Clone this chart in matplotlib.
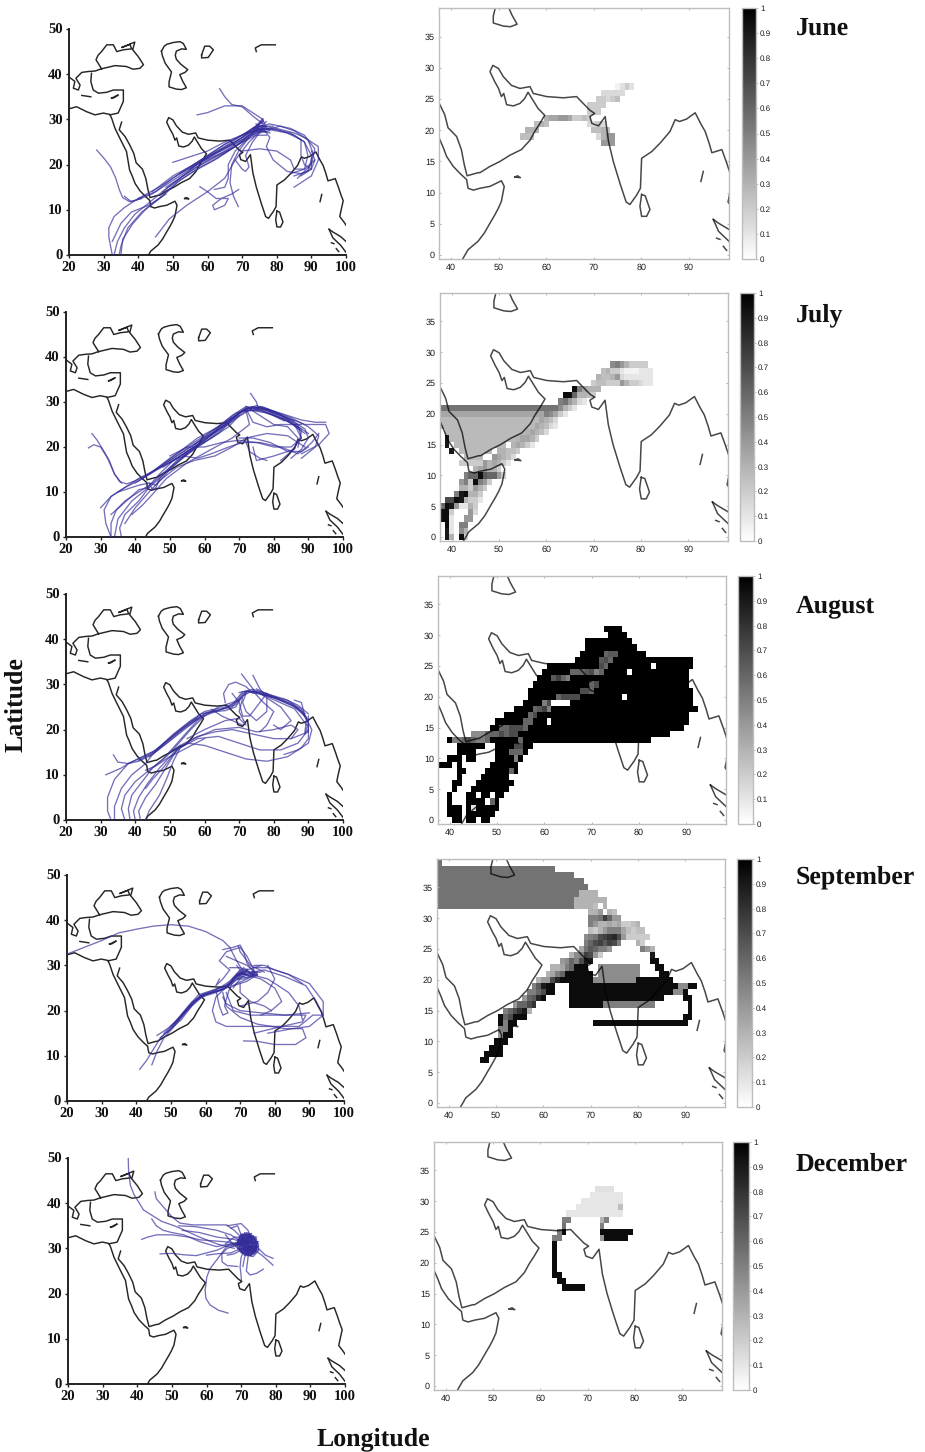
import numpy as np
import matplotlib
matplotlib.use("Agg")
import matplotlib.pyplot as plt

plt.rcParams["text.hinting"] = "no_hinting"

W, H = 925, 1452
MONTHS = ["June", "July", "August", "September", "December"]

# ---------- geography (lon, lat) ----------
COAST_AFRICA = [(19.8,32.3),(22.2,32.8),(25.1,31.7),(27.5,31),(29.9,31.4),(31.8,31.1),(32.3,30.3),(33.3,28),(34.7,25.8),(36.6,22.9),(37.5,18.8),(38.3,17.4),(39.1,15.8),(40.5,14.2),(42,13),(43.3,12.1),(43.6,10.7),(44.7,10.4),(46.1,10.7),(48.2,11),(50.6,11.9),(51.2,11),(50.6,8.6),(49.9,7.4),(49.2,6.4),(48.2,5.1),(47,3.5),(45.7,2.2),(43.6,0.85),(42.5,-0.6)]
COAST_ASIA = [(35.2,29.4),(34.5,27.7),(36.2,26.2),(37.5,24.4),(38.7,22.5),(39.4,20.4),(41.2,19),(42.2,16.9),(42.8,14.5),(43.4,12.7),(45.7,13.2),(46.1,13.2),(48.2,14.2),(50.3,15),(52.4,16),(54.8,16.9),(56.6,18.4),(57.6,19.8),(58.7,21.1),(59.7,22.4),(58.3,23.5),(57,25.1),(56.2,26.1),(55.5,25.1),(54.5,24.3),(53.1,23.9),(51.7,24.1),(51.1,25.9),(50.6,25.4),(50,26.7),(49.2,27.8),(48.2,29.4),(48.8,30.4),(50,29.9),(51,28.6),(52.7,27.2),(54.5,26.7),(56.6,27),(57.3,25.9),(60.1,25.4),(63.6,25.2),(66.4,25.4),(67.4,24.6),(69.2,23.2),(70.2,22.7),(69.2,22.2),(69.6,21.1),(71,20.7),(72.4,22.2),(73.1,18.2),(74.1,15),(75.5,11.5),(76.8,8.5),(77.6,8.1),(79,9.6),(79.8,10.7),(80.05,15.5),(82.2,16.6),(84,18),(86,19.8),(87.1,21.7),(88,21.4),(89.5,21.8),(91.3,22.8),(92.5,21),(93.4,19.8),(94.2,18),(94.8,16.4),(96.9,16.9),(97.9,14.8),(98.5,13.4),(99.2,12),(98.6,10),(98.2,8.5),(99.5,7.2),(100,6.6)]
COAST_GREECE = [(19.8,39.5),(21.7,38.4),(21.25,36.9),(22.7,36.5),(23.2,37.6),(22,39.1),(23.7,40.4),(25.6,40.6),(27.5,40.7),(29.4,41.2)]
COAST_BLACK_SEA = [(29.4,41.2),(27.8,43.2),(28.4,44.2),(29.4,45),(30.9,46.5),(32.8,46.5),(33.8,45),(35.7,45.4),(38.1,45.6),(37.6,46.6),(35.2,45.9),(39,47.1),(38.4,45.4),(40,43.9),(41.5,42.1),(40.5,41.3),(38.5,41.1),(36.6,41.7),(33.3,41.9),(29.4,41.2)]
COAST_TURKEY_S = [(26.5,40.2),(26.3,38.4),(27,36.5),(28.5,35.8),(30.9,36),(32.8,36.5),(35.7,36.5),(35.7,34),(34.2,31.4),(31.8,31)]
CRETE = [(23.7,35.3),(26.3,35)]
CYPRUS = [(32.3,34.7),(34.2,35.4),(33,34.8),(32.3,34.7)]
CASPIAN = [(46.7,45.1),(47.5,46.2),(48.2,46.6),(50,47),(52,47.2),(53,46.8),(53.9,45.5),(52.5,45.6),(51,45.1),(50.7,44.2),(51,43.3),(52.3,42.2),(54.3,41),(53.5,40.4),(52,39.9),(52.8,38.5),(53.9,37),(52.5,36.6),(51,36.7),(48.9,37.2),(48.9,38.3),(49.6,40.5),(47.8,42.4),(47,44),(46.7,45.1)]
ARAL = [(58.3,44.3),(59.2,46.2),(60.6,46.2),(61.7,45.4),(60.2,43.7),(58.3,43.6),(58.3,44.3)]
BALKHASH = [(74.1,45),(73.8,45.8),(75.5,46.5),(79.6,46.5)]
SRILANKA = [(80.05,9.7),(79.7,7.8),(80.05,6.2),(81.1,6.2),(81.8,7.3),(80.8,9.5),(80.05,9.7)]
SUMATRA_N = [(95.1,5.7),(96.2,5.1),(98.4,4.1),(100,3)]
SUMATRA_S = [(95.1,5.7),(96.2,3.8),(98.4,2.2),(100,0.6)]
ANDAMAN = [(93,13.4),(92.5,11.8)]
SOCOTRA = [(53.4,12.5),(54,12.7),(54.6,12.4),(53.4,12.5)]
NIAS = [(97.2,1.4),(97.9,0.75)]
SIMEULUE = [(95.8,2.7),(96.5,2.5)]
COASTS = [COAST_AFRICA, COAST_ASIA, COAST_GREECE, COAST_BLACK_SEA, COAST_TURKEY_S, CRETE, CYPRUS, CASPIAN, ARAL, BALKHASH,
          SRILANKA, SUMATRA_N, SUMATRA_S, ANDAMAN, SOCOTRA, NIAS, SIMEULUE]

# ---------- trajectories (lon, lat) ----------
TRAJ_JUNE = [
 [(28,23.2),(30,21.5),(32,19.5),(33.5,17),(34.5,14.5),(35.5,12.7),(37.5,11.8),(40,12.3),(44,13.5),(50,16.5),(55,19),(60,21.5),(65,23.5),(70,25.5),(75,28),(77,28.5)],
 [(32.5,0),(31.5,4),(31.5,6),(33,8.5),(36,10.5),(40,12.5),(45,14),(50,17),(55,19.5),(60,22),(65,24.5),(70,26.5),(75,28),(80,27.8),(85,26.5),(88,25),(90,22),(90,19),(87,17.5)],
 [(33,0),(34,3),(36,6),(39,9),(43,11.5),(47,14),(52,17),(57,19.5),(62,21.5),(67,23.5),(72,26),(76,28.5),(80,28),(85,27),(88,26),(92,24),(92,21),(90,17.5),(85,15)],
 [(34.5,0),(35,2),(37,6),(41,9.5),(46,12.5),(51,16),(56,18.5),(62,21),(68,24),(73,27),(77,29.5)],
 [(35,0),(35.5,3.5),(38.5,7),(42,10),(47,13),(52,16.5),(58,19.5),(63,21.5),(68,24),(74,27.5),(78,28),(84,27),(88,25),(89,22),(88,19),(84,18)],
 [(45,4),(49,8),(54,11),(60,14),(65,17),(68,21),(72,25),(76,28)],
 [(57.8,15.1),(60,14),(62.5,12.5),(66,12.5),(65,11),(62,10),(61.5,11),(64,12.5),(67,13.5),(69,14.5)],
 [(68.9,10.7),(67.5,13),(66.5,16),(67,20),(69,23),(72,26),(76,28)],
 [(62,14.5),(65,15),(66,17),(66,20),(68,23),(72,26)],
 [(57,31),(60,31.5),(65,33),(70,33),(74,31),(76,30),(77,28)],
 [(63.5,36.8),(65,35),(67,33.3),(70,32.8),(73,30.8),(76,29)],
 [(50,20.5),(52,21),(56,22),(60,23),(65,25),(70,26.5),(75,28.5)],
 [(48,15),(52,17),(57,20),(63,23),(68,25.5),(73,28),(78,29),(84,28),(88,26.5),(91,23.5),(90,20),(86,17)],
 [(70,23),(75,23.5),(80,23),(84,21),(85,19),(88,19),(91,21),(90,23)],
 [(76,28),(83,27),(87,25.5),(87,22),(88,20),(90,19),(91,21)],
 [(68,21),(70,19),(71,18.5),(72,19.5),(71,22),(73,25),(76,28)],
 [(36,13),(38,11.8),(41,12.5)],
 [(76,28),(78,26),(77,24),(79,21),(83,18.5),(87,18),(90,19)],
 [(32.5,3),(35,7),(38,9.5),(43,11),(48,13.5)],
 [(55,19),(60,22),(66,25),(71,27),(76,29.5)],
 [(47,14),(53,17.5),(59,20.5),(65,23),(70,25.5),(75,28.5),(79,28.5)],
 [(40,12.5),(46,15),(52,18),(58,21),(64,23.5),(69,25.5),(73,27.5),(76,29.8)],
 [(44,14),(50,17.5),(56,20),(62,22.5),(67,24.5),(72,27),(75,27.5),(78,27)],
 [(52,18),(58,20.5),(64,22.5),(69,24.5),(74,26.5),(77,26.5)],
 [(59,21),(65,23.5),(70,26),(74,28.5),(76,30.2),(74,28),(77,27.2)],
 [(73,26.5),(76,27.5),(81,28.5),(85,27.5),(89,25.5),(90.5,22.5),(89,18.5),(85,17.5)],
 [(74,29),(76,28.5),(78,27.5),(75,27),(73,28),(76,29.5)],
]
TRAJ_JULY = [
 [(27.5,23),(29,21.5),(31,19),(32.5,17),(34,14),(35.5,12.3),(37.5,11.8),(40,12.5),(44,14),(50,17.5),(55,20),(60,22.5),(65,25),(70,27.5),(73,28.7),(76,28.8),(80,27.5),(85,26),(89,24),(90,22),(88,19.5),(85,17.5)],
 [(26.5,19.8),(28,20.5),(30,20),(32,17.5),(34,14),(36,12)],
 [(33,0),(31.5,3),(31,6),(33,9),(37,11),(41,13),(46,15),(52,18),(58,21),(63,23.5),(68,26.5),(72,28.5),(76,28.8),(82,27),(87,25),(88,22),(85,19),(82,17)],
 [(33,0),(33,3),(34.5,6),(37,8),(41,10),(45,12),(50,15.5),(55,18.5),(60,21.5),(65,25),(69,27),(72,28.5),(77,28.5),(84,26.5),(89,25),(92,25),(95,25),(96,23),(93,20.5),(88,18.5)],
 [(36,0),(35.5,2),(37,5),(41,8),(44,11),(47,13),(52,17),(58,20),(64,23),(68,26),(72,28),(78,28.5),(85,26.5),(90,24.5),(93,22.5),(92,20),(88,17.5)],
 [(30,6.5),(33,9),(37,11),(41,12.5),(46,15),(51,17),(56,19.5),(62,22),(67,24.5),(70,27)],
 [(34,0),(35,4),(39,8),(43,10.5),(47,14),(51,17),(54,18),(58,17.5),(62,18.5),(67,20),(71,21),(76,21),(82,20),(87,18.5),(90,20)],
 [(37,3),(40,6.5),(44,10),(47,12.5),(52,15.5),(57,17),(63,18),(68,20),(72,22),(78,23),(84,22.5),(89,20)],
 [(50,18),(55,20),(60,20),(65,21),(70,21.5),(75,21),(80,20),(85,20),(88,22),(86,25)],
 [(35,10),(37,10.5),(41,11.5),(44,12),(45,10.5),(46,11),(47,13),(52,16.5),(58,20)],
 [(39,5),(42,7),(45,9.5),(49,13),(55,16.5),(62,19.5),(68,22),(73,25),(72,28)],
 [(72,29),(76,27),(80,25),(84,24.5),(87,22),(86,19.5),(80,18),(75,17),(74,20)],
 [(72,28.5),(74,25.5),(78,24.5),(82,25),(88,25)],
 [(73.3,31.9),(75,30),(75.5,28.5)],
 [(70,22),(74,22),(79,21),(84,19),(88,19),(91,21),(93,23)],
 [(78,17),(76,17.5),(73,19),(72,21)],
 [(44,12),(46,11.5),(50,15),(55,18.5)],
 [(33,5),(36,7),(41,10.5),(44,11)],
 [(76,29),(80,28),(88,26),(92,25.5),(95,25.5)],
 [(46,15),(52,18.5),(58,22),(64,24.5),(69,27.5),(74,28.5),(80,27),(86,25),(90,23)],
 [(48,15.5),(54,18.5),(60,21.5),(66,25),(71,28),(76,28.2),(82,26.5),(88,24)],
 [(40,12),(46,14.8),(52,17.5),(58,20.5),(63,23.2),(68,26),(71,28.2),(75,29.2),(80,27.8),(86,25.8)],
 [(50,16.5),(56,19.5),(61,22.2),(66,24.8),(70,27.8),(74,29),(78,28),(84,25.8),(89,23)],
 [(54,18.2),(60,21),(65,24),(70,26.8),(73,28.2),(78,27.6),(84,26),(88,23.5),(87,20)],
 [(42,13),(48,16),(55,19.6),(62,23),(67,25.6),(72,28.8),(77,28.9),(82,27.2),(87,24.5)],
 [(57,20.5),(63,24),(68,27),(72,29),(76,28.4),(83,25.8)],
]
TRAJ_AUGUST = [
 [(33.7,14.4),(35,12.8),(38,12.5),(41,13),(45,14.5),(50,17.5),(55,20.5),(60,23.5),(65,24.5),(68,25),(71,28),(73,28.5),(76,28),(80,27),(85,25.5),(88,24),(90,21.5),(89,19)],
 [(31.5,10),(33,10.5),(36,11.5),(38,12.5),(41,13.5),(45,15),(50,18),(55,21),(59,23.5),(65,24.5),(69,25.5),(72,28.5),(78,27.5),(84,26.5),(88,24.5),(90,22)],
 [(33,0),(32,2),(32,5),(34,9),(38,12.5),(42,14),(46,15.5),(51,19),(56,22),(60,24),(66,25),(69,26),(72,28)],
 [(34,0),(34,3),(36,7),(39,10),(43,12.5),(46,15.5),(50,18),(54,20.5),(58,22.5)],
 [(37,0),(36,2.5),(37,5.5),(40,8.5),(44,11),(48,13.5),(51,16),(55,19.5),(58,22),(64,25),(70,26.5)],
 [(38.5,0),(38,2.5),(39,5.5),(42,8.5),(45,11.5),(49,14),(52,16.5),(56,20),(60,23)],
 [(40,0),(39.5,2),(41,5),(43.5,8),(47,11.5),(50,14),(53,16.5)],
 [(41.5,0),(41,2),(43,5),(46,8),(48,10.5),(50,13),(52,15.5)],
 [(43,0),(44,2),(47,5.5),(49,9),(51,13),(53,16),(55,17),(60,16.5),(66,15),(72,13.5),(78,13),(84,14),(88,16),(90,18),(90,21)],
 [(43,7),(45,9),(48,11.5),(51,14.5),(53,16),(58,18),(64,18.5),(70,17),(76,15.5),(82,15.5),(87,17),(90,20)],
 [(50,15),(53,16.5),(58,18.5),(63,19.5),(68,20),(74,19),(80,18),(85,18),(90,19.5),(90,23)],
 [(52,15.5),(57,18),(63,20),(70,20.5),(75,19.5),(80,20),(85,21),(87,20),(85,18)],
 [(55,18),(60,20),(66,22),(70,22.5),(72,21),(70,24),(71,27)],
 [(66,26),(65.5,28),(67,30),(69,30.5),(72,29.5),(74,28)],
 [(70.7,32.3),(72,31),(74,29),(75,28)],
 [(74,32),(75,30.5),(76,29),(77,28),(81,27)],
 [(72,28),(71,26),(72,24),(75,22),(78,24),(78,27)],
 [(74,28.5),(77,26),(80,24),(78,21),(76,19.5)],
 [(68,28),(70,26),(71,23),(73,23),(76,26),(78,28)],
 [(76,28),(82,25),(85,22),(82,20),(80,21)],
 [(43,11),(46,12),(50,14),(55,16),(60,18)],
 [(62,24.5),(65,23),(68,22),(71,21)],
 [(86,26.5),(88,26),(89,23),(91,20),(90,17),(87,15.5),(83,14.5)],
 [(72,28.5),(76,28.3),(81,26.8),(86,25),(89,23)],
 [(41,13.2),(46,15.2),(51,18.8),(56,21.8),(61,23.8),(66,24.2),(69,25),(71,27.5),(74,28.6),(79,27.3),(85,25.8),(89,23.5)],
 [(44,14),(49,17),(54,20.2),(59,22.8),(64,24.2),(68,25.5),(71,28.4),(75,28.4),(80,26.6),(86,24.6),(89.5,21)],
 [(70,28.2),(74,28.9),(78,28),(83,26.4),(87,24.8),(89.5,22.5),(89,19.5)],
 [(75,29),(78,27.9),(83,26.8),(87,25.4),(90,23.5)],
]
TRAJ_SEPTEMBER = [
 [(20,32.5),(25,34),(30,35.5),(35,37.2),(40,38),(45,38.7),(50,39),(55,38.7),(60,37.5),(65,35.5),(67,34),(69,31),(71,28.5)],
 [(41,7),(43,9),(45,11.5),(47,14),(50,16),(53,18.5),(56,21),(59,23),(63,24),(66,25),(68,27),(71,29)],
 [(44.5,8),(46,11),(48,14),(51,16.5),(54,19.5),(57,22),(60,23.5),(64,24.5),(67,26),(70,28)],
 [(46,14.5),(49,16),(52,18),(55,21),(58,23.5),(62,24.5),(66,25.5),(69,28),(72,28)],
 [(47,14),(50,16),(53,18),(57,22),(59,23.5),(64,25),(67,26.5),(70,29)],
 [(67,26),(63,23),(62,20),(63,17.5),(66,16.5),(72,16.5),(80,16.5),(87,16.5),(91,19),(94,19),(94,22),(90,26),(84,28),(78,29.5),(74,29.5)],
 [(65,24),(66,21),(70,18.5),(75,17),(83,16),(88,16),(89,14),(86,12.5),(80,12.5),(75,13.2),(71,13.3)],
 [(66,24),(68,20),(73,19),(80,19),(85,19),(89,19),(88,17.5),(82,16.5),(74,15)],
 [(65,23),(66,21.5),(70,20),(76,19.5),(83,19),(90,19.5)],
 [(70,28),(77,29),(83,27.5),(89,25.5),(92,22),(94,19),(90,16.5),(85,16),(78,15)],
 [(71,28),(76,27),(80,25),(82,22),(79,20),(76,19)],
 [(73,28),(78,27),(84,24),(87,21),(88,18)],
 [(70,26),(70,24),(73,22),(77,21),(79,20)],
 [(78,30),(80,27),(78,24),(75,22),(70,21)],
 [(64,27),(63,25.5),(65,27),(67,29),(64,31),(66,33),(70,34),(72,32),(74,29)],
 [(65,33.5),(68,34),(70,34.5),(71,33),(72,30.5),(74,28.5)],
 [(69.5,34.3),(70,33),(73,30),(77,28.5)],
 [(66,32),(69,31),(72,30),(75,28),(72,26.5),(68,25.5)],
 [(67,29.5),(70,29.5),(73,28.5),(76,28.5)],
 [(63,24.5),(64,21),(65,19),(66.5,19.5),(65.5,21),(66,22.5),(67,25)],
 [(74,30),(77,30),(80,29),(84,28),(88,26)],
 [(68,25),(70,27),(72,29),(76,30)],
 [(69,30),(71,28),(73,28),(75,28.5),(72,27),(69,26),(67,25)],
 [(48,15),(52,18),(56,21.5),(59,23.5),(63,24.2),(67,25.5),(70,27.5)],
 [(50,16.5),(54,20),(58,23),(62,24),(66,25),(69,27.5),(72,29)],
 [(49,15.2),(53,18.8),(56,21.8),(59.5,23.6),(65,24.6),(68,26.5),(71,27.5),(74,28.8)],
 [(51,17.2),(55,20.5),(58.5,23),(63,24.6),(67,26),(70,28.5),(73,27.6),(75,28)],
 [(67,25),(69,28),(72,28.6),(75,27.8),(72,27.2),(69,28),(71,29.5),(74,27.7)],
 [(68,27),(71,28.8),(74,28.2),(71,27),(69,27),(72,29.2)],
]
TRAJ_DECEMBER = [
 [(37.4,50),(37.5,47),(38,44),(39,42),(41.8,38.5),(47,36),(51.4,34.8),(58,32.5),(63,31),(68,30)],
 [(45.1,42.5),(45.5,41),(47.5,39.2),(50,37),(52.3,35.6),(56,35.2),(62,35.2),(65.8,35.2),(68,34),(70,32.5),(72,31)],
 [(44.2,36.5),(45.5,35),(47.5,34),(50,33.5),(53.5,33),(58,31.5),(62.9,30.4),(67,31),(71,31)],
 [(41.3,32),(43,32.5),(45.6,33),(50,33),(55,32.5),(58,31.9),(64.9,31.5),(70,31)],
 [(46.6,28.8),(50,28.9),(53.3,28.6),(57,28.4),(60,29),(63,29.6),(67,31),(71,31)],
 [(66.2,15.7),(63.5,16.3),(61,17.5),(59.8,19),(59.6,20.8),(60.1,23.7),(61,25.5),(62.9,27.4),(65.8,30.4),(70,31.5)],
 [(79.2,26.3),(76,28.5),(73,30),(70,32)],
 [(79.2,27.8),(77,28.5),(75,30)],
 [(76.4,25.4),(74.5,24.5),(72.6,24.1),(71.5,25),(72,28),(72,31)],
 [(70.1,22.6),(70,24),(69.7,25.9),(70,28),(71,30),(72,31.5)],
 [(69,26),(66,26.2),(64.5,27),(64.4,28.8),(66,30),(70,31)],
 [(60,28.5),(63,28.8),(67,29),(70,30)],
 [(70.5,26),(71,28),(72,30)],
 [(53,34),(58,33.5),(63,32.5),(68,32),(71,31)],
 [(52,35),(57,34.8),(63,34),(67,33),(70,31.5)],
 [(66,35),(70,35.5),(72,34),(73,32)],
 [(67,34.5),(69,35),(70,33),(71,31)],
 [(67,30.5),(70,31),(72,31.5)],
 [(65.5,31),(68,32.5),(71,32.5)],
 [(65.5,33),(67,31.5),(69,30),(71,28.5)],
 [(66,28.5),(68,28.8),(71,30),(72,30.5)],
 [(69,31),(70,33),(72,33),(74,32),(74.5,30.5),(74,29),(72.5,28.5),(70.5,29),(69.5,30.5),(70,32),(72,32.7),(73.7,31.5),(74,29.5),(72,29),(70.5,30),(70.5,31.5),(72,32),(73.2,31),(73,29.7),(71.7,29.6),(71,30.7),(71.7,31.5),(72.6,30.8),(72,30.2)],
 [(68.5,30.5),(69.5,32.5),(71.5,33.5),(73.5,32.5),(75,31),(75,29.5),(73.5,28.2),(71.5,28.7),(69.5,29.5),(69,31),(70.5,32.7),(72.5,33),(74.2,31.5),(74.3,30),(73,29),(71,29.5),(70,31),(71,32.3),(72.7,32.3),(73.5,31),(73.5,30),(72,29.5),(71,30.3),(71.5,31.7),(73,31.5),(73,30.3),(71.8,30.2)],
 [(68,31),(75,31.5),(69,32),(74.5,32.5),(70,33),(73,33.3),(70,30.5),(75,30.5),(69,30),(75,29.7),(70,29.2),(74,29),(71,28.5),(73,28.3)],
 [(68.5,31.3),(74.8,31.1),(69.5,31.7),(74.5,32.1),(70.5,32.5),(73.5,32.8),(69.5,30.7),(74.8,30.2),(69.5,29.7),(74.5,29.4),(70.5,28.9),(73.5,28.7)],
 [(70,33.2),(70,29),(71,33.5),(71,28.8),(72,33.5),(72,28.4),(73,33.2),(73,28.5),(74,32.5),(74,29),(74.7,31.5),(74.7,30),(69,32),(69,30)],
 [(69.5,32.5),(69.5,29.5),(70.5,33.2),(70.5,29),(71.5,33.3),(71.5,28.6),(72.5,33.2),(72.5,28.4),(73.5,32.8),(73.5,28.8),(74.4,32),(74.4,29.5)],
]
TRAJECTORIES = [TRAJ_JUNE, TRAJ_JULY, TRAJ_AUGUST, TRAJ_SEPTEMBER, TRAJ_DECEMBER]

# ---------- probability grids: bands (lat, lon0, lon1, value), cells (lat, lon0, [values]) ----------
LONS = np.arange(38, 99)
LATS = np.arange(0, 40)

BANDS_JUNE = []
CELLS_JUNE = [
 (27,75,[.05,.12,.2,.12]),(26,72,[.15,.15,.15,.15,.15]),(25,71,[.2,.2,.15,.2,.25]),(24,69,[.2,.2,.2,.2]),
 (23,69,[.2,.2,.2]),(22,60,[.3,.35,.35,.4,.4,.35,.2,.2,.25,.2]),(21,58,[.25,.3,.25]),(21,69,[.15,.15,.2,.15]),
 (20,56,[.3,.3,.3]),(20,70,[.25,.25,.3,.25]),(19,55,[.25,.25,.25]),(19,71,[.15,.3,.4,.4]),(18,72,[.4,.4,.4]),
]
BANDS_JULY = [(21,38,62,.55),(20,38,60,.35),(19,38,59,.27),(18,38,57,.27),(17,39,55,.27),(16,40,53,.27),
              (15,41,51,.27),(14,42,48,.27),(13,43,46,.27),(12,42,46,.2)]
CELLS_JULY = [
 (28,74,[.45,.5,.4,.3,.2,.2,.2,.2]),(27,72,[.25,.3,.2,.2,.1,.05,.05,.05,.1,.1,.1]),
 (26,71,[.3,.25,.25,.3,.4,.15,.1,.1,.1,.1,.1,.1]),(25,70,[.2,.25,.25,.2,.2,.2,.4,.3,.2,.2,.15,.1,.1]),
 (24,66,[.95,.5,.35,.3,.3,.3]),(23,64,[.95,.95,.6,.3,.3,.25,.2]),(22,63,[.5,.55,.4,.3,.15,.1]),
 (21,63,[.45,.3,.2,.1]),(20,60,[.5,.45,.35,.2,.1]),(19,59,[.35,.3,.25,.15]),(18,58,[.35,.3,.25,.15,.1]),
 (17,56,[.3,.35,.3,.25,.15]),(16,54,[.3,.35,.35,.3,.2]),(15,53,[.3,.35,.3,.2,.1]),(14,50,[.3,.3,.25,.25,.2]),
 (13,49,[.4,.35,.3,.25,.15]),(12,47,[.4,.3,.35,.3,.2,.1]),(11,45,[.3,.35,.4,.3,.3,.2]),
 (10,43,[.5,.6,.6,.95,.65,.6,.6,.4,.2]),(9,42,[.4,.5,.2,.95,.5,.4,.2]),(8,42,[.3,.3,.2,.4,.3,.2]),
 (7,41,[.5,.9,.95,.3,.3,.2]),(6,39,[.7,.7,.95,.9,.3,.2,.2,.1]),(5,38,[.6,.95,.9,.4,.1,.1,.3,.2]),
 (4,38,[.95,.95,.2]),(4,44,[.4,.15]),(3,38,[.95,.95,.1]),(3,43,[.4,.4]),(2,39,[.95,.1]),(2,42,[.5,.5]),
 (1,39,[.9,.1]),(1,42,[.45,.3]),(0,39,[.9,.3]),(0,42,[.95,.2]),
 (16,39,[.9]),(15,39,[.9]),(14,40,[.9]),
]
BANDS_AUGUST = [
 (31,73,76,1),(30,74,77,1),(29,69,78,1),(28,69,79,1),(27,68,81,1),(26,67,91,1),(25,61,91,1),(24,60,90,1),
 (23,59,90,1),(22,58,90,1),(21,57,91,1),(20,57,91,1),(19,56,91,1),(18,54,92,1),(17,52,90,1),(16,50,90,1),
 (15,49,89,1),(14,45,86,1),(13,40,82,1),(12,42,47,1),(12,50,57,1),(11,42,45,1),(11,50,56,1),(10,40,42,1),
 (10,44,45,1),(10,50,55,1),(9,38,40,1),(9,42,42,1),(9,49,54,1),(8,42,43,1),(8,48,52,1),(8,54,54,1),
 (7,42,42,1),(7,47,52,1),(6,41,42,1),(6,46,50,1),(6,51,53,1),(5,41,41,1),(5,45,50,1),(5,51,52,1),
 (4,40,40,1),(4,44,45,1),(4,47,48,1),(4,50,51,1),(3,40,40,1),(3,44,47,1),(3,50,50,1),(2,40,42,1),
 (2,44,50,1),(1,40,42,1),(1,44,49,1),(0,41,42,1),(0,44,45,1),(0,47,48,1),
]
CELLS_AUGUST = [
 (27,73,[.6,.65,.65]),(26,72,[.65,.7,.6]),(25,72,[.7,.6]),(24,66,[.6,.6,.6,.65,.7,.5,.6]),
 (23,62,[.65,.75,.6,.5]),(22,70,[.6,.7]),(21,68,[.7,.7,.6]),(20,63,[.6,.7,.7,.7,.7]),(19,60,[.5,.7,0,0,0,0]),
 (18,58,[.6,.65,.75,.5]),(17,57,[.6,.7]),(16,56,[.6,.6]),(15,51,[.6,.6,.7,.7,.7,.6]),
 (14,45,[.45,.45,.45,.6,.6,.6,.7,.6,.7,.7]),(13,41,[.5,.5,.6,.7,.6,.5,.5,.6]),(13,55,[.6]),(12,54,[.7,.7]),
 (11,53,[.6,.6,.6]),(10,54,[.5]),(25,83,[0]),(24,78,[0]),(20,77,[0]),(16,61,[0]),(8,53,[.6]),(4,46,[0]),(2,45,[.1]),
 (3,48,[0]),(3,49,[.6]),
]
BANDS_SEPTEMBER = [
 (39,38,38,.55),(38,38,62,.55),(37,38,66,.55),(36,38,68,.55),(35,38,69,.55),(34,38,67,.55),(33,38,66,.55),(32,38,66,.55),
 (22,72,80,.45),(21,72,80,.45),(20,71,79,.45),(22,67,69,.95),(21,66,70,.95),(20,66,70,.95),(20,80,87,.95),
 (19,66,88,.95),(18,66,87,.95),(17,66,85,.95),(16,66,72,.95),(16,73,83,.5),(13,71,90,.95),
]
CELLS_SEPTEMBER = [
 (34,68,[.3,.3,.3,.3]),(33,67,[.3,.3,.3,.3,.3,.3,.3]),(32,67,[.3,.3,.3,.3,.25,0,.3]),
 (31,70,[.3,.3,.4,0,.3,.25]),(30,70,[.5,.5,.55,.75,.6,.4,.4]),
 (29,70,[.5,.4,.3,.3,.35,.3,.35,.2,.2,.25,.3]),(28,70,[.25,.2,.3,.4,.5,.5,.5,.35,.25,.2,.25,.25]),
 (27,69,[.45,.5,.55,.7,.75,.8,.85,.7,.4,.2,.2,.2,.2,.2]),(26,69,[.5,.6,.7,.75,.65,.75,.7,.5]),(26,80,[.3,.2]),
 (25,68,[.35,.55,.65,.6,.5,.5,.4]),(25,81,[.5,.4,.3]),(24,66,[.3,.45,.5,.75,.7,.4,.2]),(24,83,[.9]),
 (23,64,[.4,.45,.6,.5,.7,.9,.9]),(23,83,[.95,.95]),(22,62,[.3,.3,.35,.5,.6]),(22,84,[.95,.95]),
 (21,61,[.3,.35,.5,.6,.95]),(21,85,[.95,.95]),(20,59,[.3,.4,.4,.7,.85,.95,.95]),(19,58,[.5,.65,.9,.95,.95]),
 (19,89,[.45,.45,.95,.95]),(18,57,[.5,.5,.6,.7,.95,.95]),(18,88,[.45,.45,.95]),(17,56,[.4,.6,.65,.85,.95]),
 (17,90,[.95,.95]),(16,54,[.4,.6,.6,.7,.8]),(16,91,[.95]),(15,52,[.5,.6,.7,.8,.9,.3]),(15,91,[.95]),
 (14,51,[.95,.6,.7,.95,.95,.95]),(14,90,[.95,.95]),(13,51,[.95,.5,.95,.95]),(12,51,[.5,.5,.95]),(11,51,[.4,.95,.95]),
 (10,50,[.95,.95,.95]),(9,49,[.95,.95,.95]),(8,48,[.95,.95,.95,.95]),(7,47,[.95,.95]),
]
BANDS_DECEMBER = [
 (32,72,75,.12),(31,71,77,.1),(30,69,77,.1),(29,68,76,.1),(28,66,77,.1),(25,74,79,.95),(24,74,78,.95),
 (23,63,63,.95),(22,63,63,.95),(21,63,63,.95),(20,63,63,.95),(19,63,63,.95),(18,63,64,.95),(17,64,65,.95),(16,65,69,.95),
]
CELLS_DECEMBER = [
 (29,77,[.25]),(27,65,[.5,.5]),(27,73,[.3,.5]),(26,65,[.55]),(26,73,[.5]),(25,64,[.5,.95]),(25,73,[.95]),(24,63,[.5,.5]),(24,73,[.4]),
]
BANDS = [BANDS_JUNE, BANDS_JULY, BANDS_AUGUST, BANDS_SEPTEMBER, BANDS_DECEMBER]
CELLS = [CELLS_JUNE, CELLS_JULY, CELLS_AUGUST, CELLS_SEPTEMBER, CELLS_DECEMBER]

CBAR_TICKS = [0, .1, .2, .3, .4, .5, .6, .7, .8, .9, 1]
CBAR_LABELS = ["0", "0.1", "0.2", "0.3", "0.4", "0.5", "0.6", "0.7", "0.8", "0.9", "1"]

# ---------- layout in reference pixels ----------
LEFT_BOXES = [(69,346,29,255),(66,343,312,537),(66,343,594,820),(67,344,875,1101),(68,345,1158,1384)]
RIGHT_BOXES = [(439,729,8,259),(440,728,293,541),(438,726,576,824),(437,725,859,1107),(434,722,1142,1390)]
CBAR_BOXES = [(742,756,8,259),(740,754,293,541),(738,753,576,824),(737,752,859,1107),(733,749,1142,1390)]
MONTH_Y = [28, 315, 606, 877, 1164]

SERIF = "Liberation Serif"
SANS = "Liberation Sans"
BLUE = "#332c9a"
GREY = "#bdbdbd"

def axes_px(fig, box):
    x0, x1, yt, yb = box
    return fig.add_axes([x0 / W, 1 - yb / H, (x1 - x0) / W, (yb - yt) / H])

def grid_for(bands, cells):
    g = np.zeros((len(LATS), len(LONS)))
    for lat, a, b, v in bands:
        g[lat, a - LONS[0]:b - LONS[0] + 1] = v
    for lat, a, vals in cells:
        for k, v in enumerate(vals):
            g[lat, a - LONS[0] + k] = v
    return g

fig = plt.figure(figsize=(W / 100, H / 100), dpi=100, facecolor="white")

for i in range(5):
    # left: trajectories
    ax = axes_px(fig, LEFT_BOXES[i])
    for c in COASTS:
        xy = np.array(c)
        ax.plot(xy[:, 0], xy[:, 1], color="#262626", lw=1.05, solid_joinstyle="round", zorder=2)
    for t in TRAJECTORIES[i]:
        xy = np.array(t)
        ax.plot(xy[:, 0], xy[:, 1], color=BLUE, lw=0.95, alpha=0.68, solid_joinstyle="round", zorder=3)
    ax.set_xlim(20, 100)
    ax.set_ylim(0, 50)
    ax.set_xticks(np.arange(20, 101, 10))
    ax.set_yticks(np.arange(0, 51, 10))
    for s in ("top", "right"):
        ax.spines[s].set_visible(False)
    for s in ("left", "bottom"):
        ax.spines[s].set_linewidth(1.4)
        ax.spines[s].set_color("#222222")
    ax.tick_params(length=2.5, width=1.0, pad=2, color="#222222")
    for lab in ax.get_xticklabels() + ax.get_yticklabels():
        lab.set_fontfamily(SERIF)
        lab.set_fontweight("bold")
        lab.set_fontsize(10.5)
        lab.set_color("#111111")

    # right: probability grid
    ax2 = axes_px(fig, RIGHT_BOXES[i])
    g = grid_for(BANDS[i], CELLS[i])
    xe = np.append(LONS - 0.5, LONS[-1] + 0.5)
    ye = np.append(LATS - 0.5, LATS[-1] + 0.5)
    mesh = ax2.pcolormesh(xe, ye, g, cmap="gray_r", vmin=0, vmax=1, shading="flat", zorder=1)
    for c in COASTS:
        xy = np.array(c)
        ax2.plot(xy[:, 0], xy[:, 1], color="black", alpha=0.72, lw=1.1, solid_joinstyle="round", zorder=2)
    ax2.set_xlim(37.5, 98.4)
    ax2.set_ylim(-0.64, 39.6)
    ax2.set_xticks(np.arange(40, 91, 10))
    ax2.set_yticks(np.arange(0, 36, 5))
    ax2.tick_params(direction="in", length=1.5, width=0.6, color="#aaaaaa", top=True, right=True,
                    labelsize=6.5, labelcolor="#1a1a1a", pad=3)
    for lab in ax2.get_xticklabels() + ax2.get_yticklabels():
        lab.set_fontfamily(SANS)
    for s in ax2.spines.values():
        s.set_color(GREY)
        s.set_linewidth(1.0)

    # colour bar
    cax = axes_px(fig, CBAR_BOXES[i])
    cb = fig.colorbar(mesh, cax=cax, ticks=CBAR_TICKS)
    cb.ax.set_yticklabels(CBAR_LABELS, fontfamily=SANS, fontsize=5.8, color="#1a1a1a")
    cb.ax.tick_params(length=1.5, width=0.5, color="#aaaaaa", pad=1.5)
    cb.outline.set_edgecolor(GREY)
    cb.outline.set_linewidth(1.0)

    fig.text(796 / W, 1 - MONTH_Y[i] / H, MONTHS[i], fontfamily=SERIF, fontweight="bold",
             fontsize=18.6, color="#111111", ha="left", va="center")

fig.text(16 / W, 1 - 705 / H, "Latitude", fontfamily=SERIF, fontweight="bold", fontsize=18.6,
         rotation=90, ha="center", va="center", color="#111111")
fig.text(373 / W, 1 - 1439 / H, "Longitude", fontfamily=SERIF, fontweight="bold", fontsize=18.6,
         ha="center", va="center", color="#111111")

fig.savefig("out.png", dpi=100, facecolor="white")
